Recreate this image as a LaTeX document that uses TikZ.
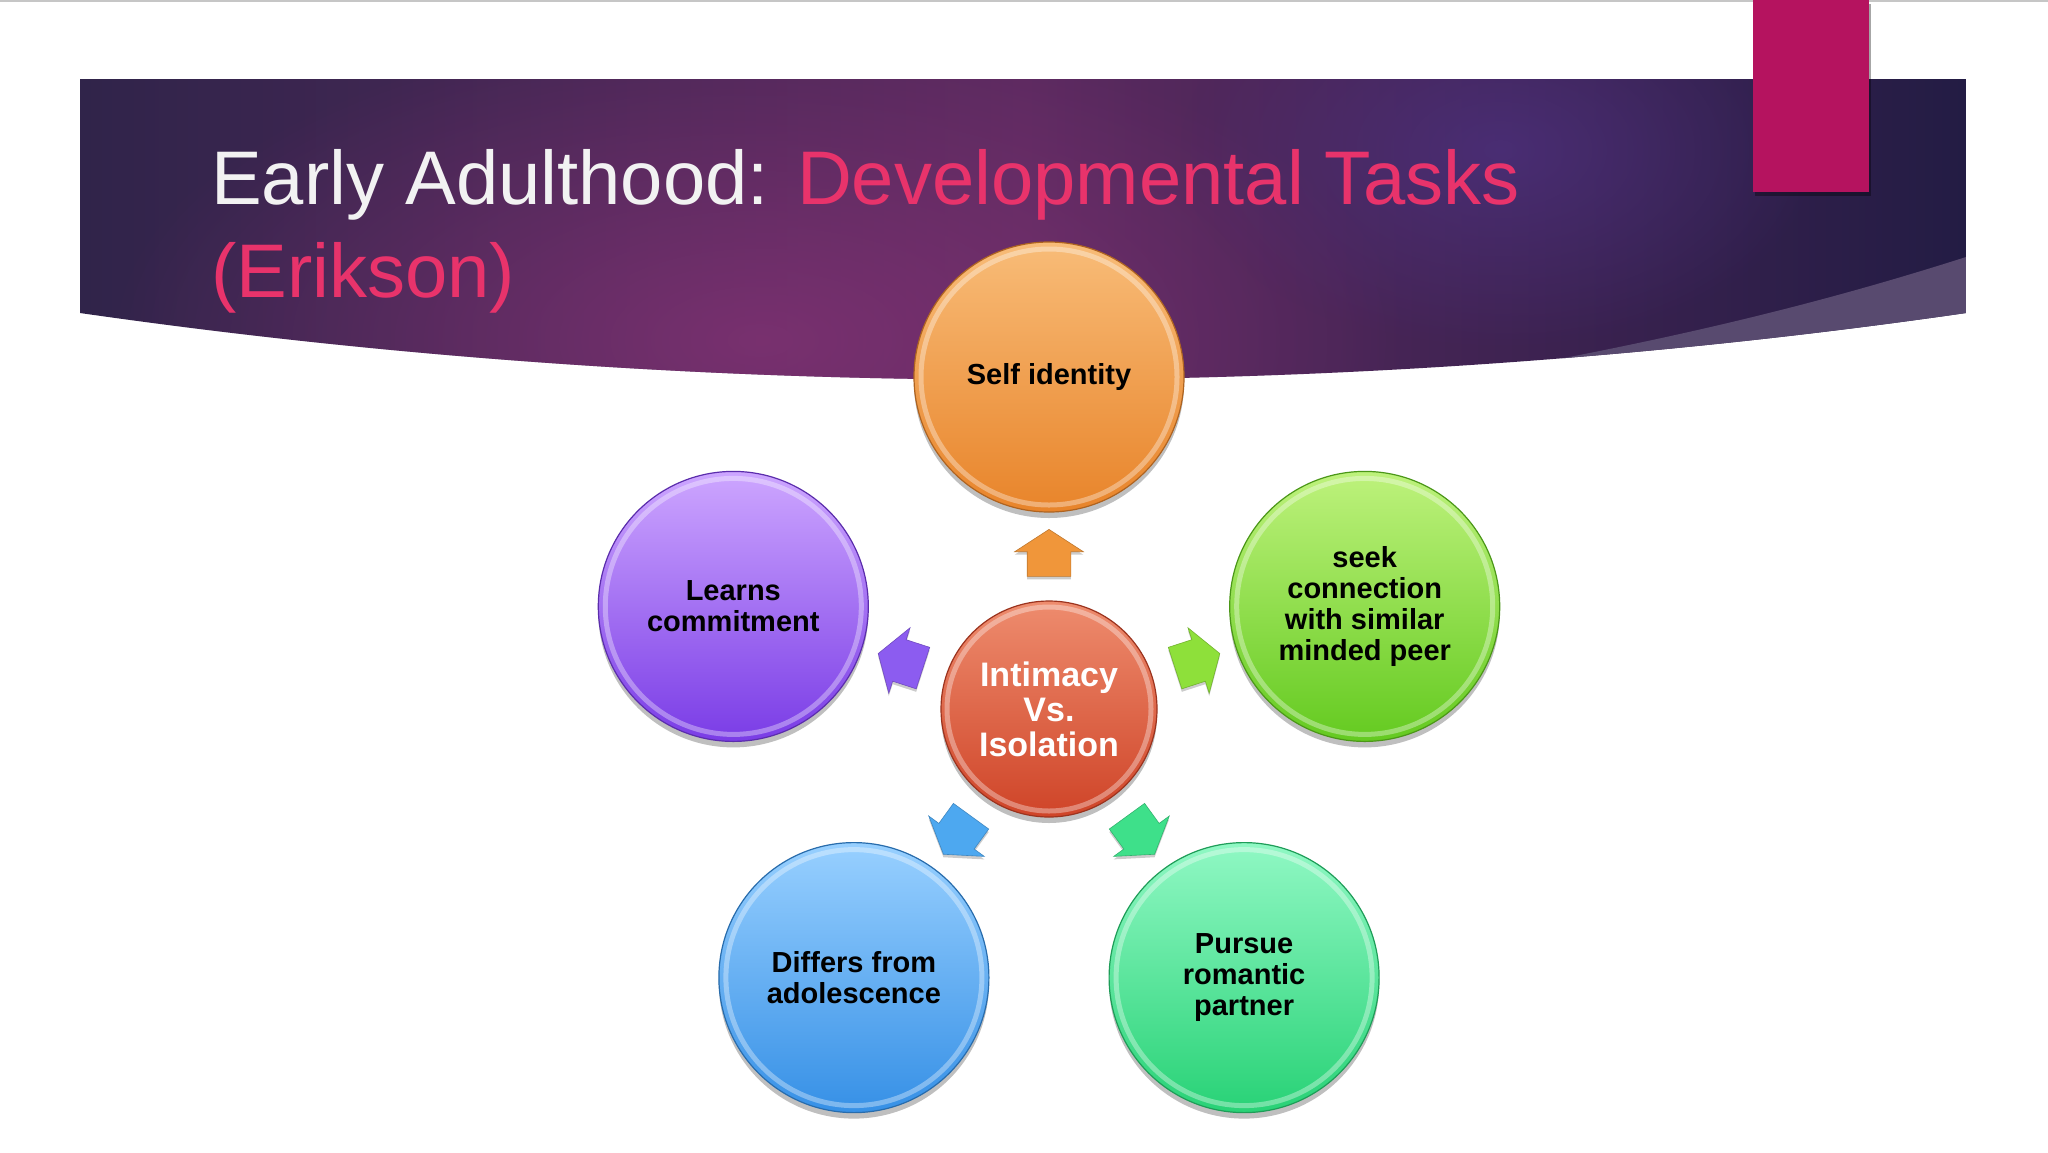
\documentclass[tikz,border=0pt]{standalone}
\usepackage{fontspec}
\setmainfont{Liberation Sans}
\usetikzlibrary{shapes.arrows,shadows,fadings}
\definecolor{bannerL}{HTML}{30244A}
\definecolor{bannerM}{HTML}{5C2A60}
\definecolor{bannerR}{HTML}{231C44}
\definecolor{glowA}{HTML}{8A3478}
\definecolor{glowB}{HTML}{4E3282}
\definecolor{bandC}{HTML}{584A6F}
\definecolor{magbar}{HTML}{B5135F}
\definecolor{titlewhite}{HTML}{F2F2F2}
\definecolor{titlepink}{HTML}{E8336B}
\definecolor{oTop}{HTML}{F8BC78}\definecolor{oBot}{HTML}{E8842A}
\definecolor{pTop}{HTML}{CDA6FF}\definecolor{pBot}{HTML}{7A3CE6}
\definecolor{gTop}{HTML}{BEF27C}\definecolor{gBot}{HTML}{64CA20}
\definecolor{bTop}{HTML}{98D0FF}\definecolor{bBot}{HTML}{3690E6}
\definecolor{tTop}{HTML}{90F8C4}\definecolor{tBot}{HTML}{28D276}
\definecolor{rTop}{HTML}{EE8C6E}\definecolor{rBot}{HTML}{CF4428}
\definecolor{aO}{HTML}{F0963A}
\definecolor{aP}{HTML}{8C5CF0}
\definecolor{aG}{HTML}{8EE03A}
\definecolor{aB}{HTML}{4DA8F0}
\definecolor{aT}{HTML}{3EE08A}
\tikzfading[name=glowfade, inner color=transparent!30, outer color=transparent!100]
\tikzset{
  bubble/.style={circle, minimum size=270pt, inner sep=0pt, align=center,
    font=\bfseries\fontsize{29}{31}\selectfont, text=black, line width=1.2pt,
    drop shadow={shadow xshift=0pt, shadow yshift=-6pt, opacity=0.25, fill=black}},
  hub/.style={bubble, minimum size=216pt, text=white,
    font=\bfseries\fontsize{34}{35}\selectfont},
  blockarr/.style={single arrow, minimum height=47pt, minimum width=0pt,
    text width=0pt, text height=0pt, text depth=0pt,
    inner xsep=0pt, inner ysep=21.5pt,
    single arrow head extend=12.5pt, single arrow tip angle=114,
    fill=#1, draw=#1!80!black, line width=0.6pt,
    drop shadow={shadow xshift=0pt, shadow yshift=-3pt, opacity=0.2, fill=black}},
  ring/.style={draw=white, opacity=0.35, line width=5pt}
}
\begin{document}
\begin{tikzpicture}[x=1pt,y=-1pt]
\useasboundingbox (0,0) rectangle (2048,1152);
\fill[white] (0,0) rectangle (2048,1152);
\draw[gray!45, line width=2pt] (0,1) -- (2048,1);
% banner
\begin{scope}
\clip (80,79) -- (1966,79) -- (1966,313) .. controls (1350,402) and (700,402) .. (80,313) -- cycle;
\shade[left color=bannerL, right color=bannerR, middle color=bannerM] (80,79) rectangle (1966,420);
\fill[glowA, path fading=glowfade] (760,340) ellipse (650 and 320);
\fill[glowB, path fading=glowfade] (1500,150) ellipse (320 and 200);
\fill[bandC] (1966,257) .. controls (1800,310) and (1600,360) .. (1250,410) -- (1966,450) -- cycle;
\end{scope}
\path[fill=magbar, drop shadow={shadow xshift=2pt, shadow yshift=-4pt, opacity=0.35, fill=black}] (1753,0) rectangle (1869,192);
% title
\node[anchor=base west, inner sep=0pt, font=\fontsize{76}{93}\selectfont, text=titlewhite] (title1) at (211,204) {Early Adulthood: \textcolor{titlepink}{Developmental Tasks}};
\node[anchor=base west, inner sep=0pt, font=\fontsize{76}{93}\selectfont, text=titlepink] (title2) at (211,297) {(Erikson)};
% bubbles
\node[bubble, top color=oTop, bottom color=oBot, draw=oBot!75!black] (self) at (1049,377) {Self identity};
\node[bubble, top color=pTop, bottom color=pBot, draw=pBot!75!black] (learn) at (733.3,606.4) {Learns\\commitment};
\node[bubble, top color=gTop, bottom color=gBot, draw=gBot!75!black] (seek) at (1364.7,606.4) {seek\\connection\\with similar\\minded peer};
\node[bubble, top color=bTop, bottom color=bBot, draw=bBot!75!black] (differ) at (853.9,977.6) {Differs from\\adolescence};
\node[bubble, top color=tTop, bottom color=tBot, draw=tBot!75!black] (pursue) at (1244.1,977.6) {Pursue\\romantic\\partner};
\node[hub, top color=rTop, bottom color=rBot, draw=rBot!75!black] (hub) at (1049,709) {Intimacy\\Vs.\\Isolation};
\foreach \n/\r in {self/128, learn/128, seek/128, differ/128, pursue/128, hub/102}
  \draw[ring] (\n.center) circle[radius=\r];
% arrows
\node[blockarr=aO, rotate=90] (a1) at (1049,560) {};
\node[blockarr=aP, rotate=162] (a2) at (907.3,663) {};
\node[blockarr=aG, rotate=18] (a3) at (1190.7,663) {};
\node[blockarr=aB, rotate=234] (a4) at (961.4,829.5) {};
\node[blockarr=aT, rotate=306] (a5) at (1136.6,829.5) {};
\end{tikzpicture}
\end{document}
